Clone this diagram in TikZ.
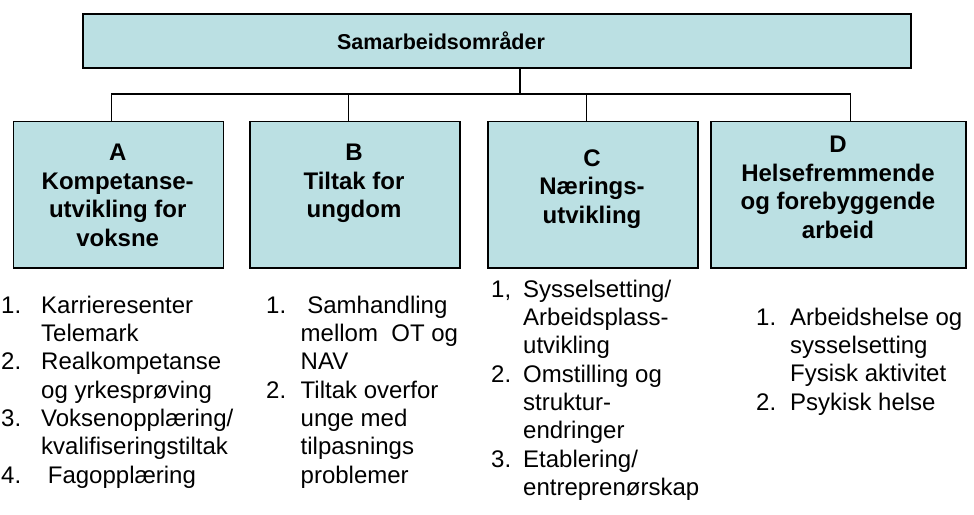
\documentclass[tikz,border=0pt]{standalone}
\usepackage{fontspec}
\setmainfont{Liberation Sans}
\usepackage{array}
\definecolor{boxfill}{RGB}{187,224,227}
\begin{document}
\begin{tikzpicture}[x=1pt,y=-1pt,
  box/.style={draw=black, line width=1.5pt, fill=boxfill, anchor=north west, inner sep=0pt},
  conn/.style={draw=black, line width=1.2pt},
  titletext/.style={anchor=base, inner sep=0pt, font=\bfseries\fontsize{21.5}{25}\selectfont},
  boxtext/.style={anchor=north, inner sep=0pt, align=center, font=\bfseries\fontsize{24}{28.5}\selectfont},
  listtext/.style={anchor=north west, inner sep=0pt, font=\fontsize{24}{28.3}\selectfont}]
\path[use as bounding box, fill=white] (0,0) rectangle (974,514);

% boxes
\node[box, minimum width=828pt, minimum height=54pt] (top) at (82,13) {};
\node[titletext] (ttl) at (441,49) {Samarbeidsområder};

\node[box, minimum width=210pt, minimum height=146.3pt] (A) at (12.7,120.7) {};
\node[box, minimum width=210pt, minimum height=146.3pt] (B) at (249,120.7) {};
\node[box, minimum width=210pt, minimum height=146.3pt] (C) at (487,120.7) {};
\node[box, minimum width=255pt, minimum height=146.3pt] (D) at (710,120.7) {};

\node[boxtext] (tA) at (117.7,143.8) {A\\Kompetanse-\\utvikling for\\voksne};
\node[boxtext] (tB) at (354,143.8) {B\\Tiltak for\\ungdom};
\node[boxtext] (tC) at (592,149.5) {C\\Nærings-\\utvikling};
\node[boxtext] (tD) at (838,135.8) {D\\Helsefremmende\\og forebyggende\\arbeid};

% connectors
\coordinate (bus) at (520,94);
\draw[conn] (top.south -| bus) -- (bus);
\draw[conn] ([xshift=-7pt]A.north) |- (bus) -| ([xshift=12.5pt]D.north);
\draw[conn] ([xshift=-6.3pt]B.north) -- ([xshift=-6.3pt]B.north |- bus);
\draw[conn] ([xshift=-6pt]C.north) -- ([xshift=-6pt]C.north |- bus);

% lists
\node[listtext] (lA) at (1,293.2) {\begin{tabular}{@{}wl{40pt}@{}l@{}}
1. & Karrieresenter\\
   & Telemark\\
2. & Realkompetanse\\
   & og yrkesprøving\\
3. & Voksenopplæring/\\
   & kvalifiseringstiltak\\
4. & \ Fagopplæring
\end{tabular}};

\node[listtext] (lB) at (266,293.2) {\begin{tabular}{@{}wl{34.5pt}@{}l@{}}
1. & \ Samhandling\\
   & mellom\ \ OT og\\
   & NAV\\
2. & Tiltak overfor\\
   & unge med\\
   & tilpasnings\\
   & problemer
\end{tabular}};

\node[listtext] (lC) at (491,277.2) {\begin{tabular}{@{}wl{32pt}@{}l@{}}
1, & Sysselsetting/\\
   & Arbeidsplass-\\
   & utvikling\\
2. & Omstilling og\\
   & struktur-\\
   & endringer\\
3. & Etablering/\\
   & entreprenørskap
\end{tabular}};

\node[listtext] (lD) at (756,305.2) {\begin{tabular}{@{}wl{34pt}@{}l@{}}
1. & Arbeidshelse og\\
   & sysselsetting\\
   & Fysisk aktivitet\\
2. & Psykisk helse
\end{tabular}};
\end{tikzpicture}
\end{document}
